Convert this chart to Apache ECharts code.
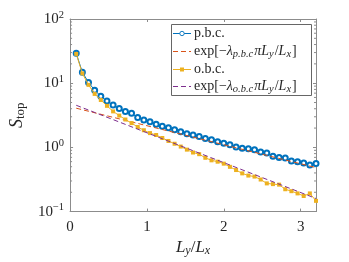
<!DOCTYPE html>
<html><head><meta charset="utf-8">
<script src="https://cdn.jsdelivr.net/npm/echarts@6/dist/echarts.min.js"></script>
<style>html,body{margin:0;padding:0;background:#fff}#c{width:349px;height:262px}</style>
</head><body><div id="c"></div>
<script>
const xVals = [0.08,0.16,0.24,0.32,0.40,0.48,0.56,0.64,0.72,0.80,0.88,0.96,1.04,1.12,1.20,1.28,1.36,1.44,1.52,1.60,1.68,1.76,1.84,1.92,2.00,2.08,2.16,2.24,2.32,2.40,2.48,2.56,2.64,2.72,2.80,2.88,2.96,3.04,3.12,3.20];
const pbc = [29.2,14.8,10.3,7.75,6.28,5.28,4.59,4.04,3.64,3.39,2.92,2.66,2.50,2.29,2.13,2.03,1.89,1.75,1.63,1.56,1.48,1.38,1.32,1.23,1.16,1.10,1.01,0.966,0.955,0.922,0.849,0.82,0.731,0.698,0.681,0.614,0.599,0.572,0.534,0.559];
const obc = [28.6,14.2,9.42,6.81,5.47,4.44,3.64,3.13,2.72,2.39,2.08,1.85,1.67,1.56,1.40,1.26,1.14,1.03,0.923,0.832,0.784,0.689,0.629,0.599,0.558,0.498,0.444,0.394,0.364,0.351,0.316,0.275,0.268,0.263,0.223,0.208,0.192,0.175,0.192,0.147];
const fitX = [0.08, 3.20];
const fitP = [4.08, 0.485];
const fitO = [4.53, 0.16];
const xTicks = [0, 1, 2, 3];
const yTickLabels = {0.1: '\u22121', 1: '0', 10: '1', 100: '2'};
const yMinorTicks = [0.2,0.3,0.4,0.5,0.6,0.7,0.8,0.9,2,3,4,5,6,7,8,9,20,30,40,50,60,70,80,90];
const legendLabels = [
  'p.b.c.',
  'exp[\u2212{i|\u03bb}{sub|p.b.c}{i|\u03c0L}{sub|y}/{i|L}{sub|x}]',
  'o.b.c.',
  'exp[\u2212{i|\u03bb}{sub|o.b.c}{i|\u03c0L}{sub|y}/{i|L}{sub|x}]'
];

const F = '"Liberation Serif","DejaVu Serif",serif';
const AX = '#8c8c8c';
const TXT = '#262626';
const BLUE = '#0072BD', RED = '#D95319', YEL = '#EDB120', PUR = '#7E2F8E';
const pair = a => a.map((v,i)=>[xVals[i], v]);
const fitPair = a => a.map((v,i)=>[fitX[i], v]);

// legend built with graphic elements
const LG = {x:171, y:24, w:140, h:71, row0:33.3, rowGap:17.6};
const legendColors = [BLUE, RED, YEL, PUR];
const legendEls = [{type:'rect', shape:{x:LG.x+0.5, y:LG.y+0.5, width:LG.w, height:LG.h},
  style:{fill:'#fff', stroke:'#666', lineWidth:1}}];
legendLabels.forEach((t,i) => {
  const y = Math.round(LG.row0 + i*LG.rowGap) + 0.5;
  const dashed = (i % 2 === 1);
  legendEls.push({type:'line', shape:{x1:LG.x+2, y1:y, x2:LG.x+20, y2:y},
    style:{stroke:legendColors[i], lineWidth:1, lineDash: dashed ? [5,3] : null}});
  if (i === 0) legendEls.push({type:'circle', shape:{cx:LG.x+11, cy:y, r:2.2}, style:{fill:'#fff', stroke:BLUE, lineWidth:0.9}});
  if (i === 2) legendEls.push({type:'rect', shape:{x:LG.x+9, y:y-2, width:4, height:4}, style:{fill:YEL}});
  legendEls.push({type:'text', x:LG.x+23, y:y, style:{text:t, fontFamily:F, fontSize:14, fill:TXT, verticalAlign:'middle',
    rich:{
      i:{fontFamily:F, fontSize:14, fontStyle:'italic', fill:TXT},
      sub:{fontFamily:F, fontSize:10.5, fontStyle:'italic', fill:TXT, verticalAlign:'bottom', padding:[5,1,0,0]}
    }}});
});

const chart = echarts.init(document.getElementById('c'), null, {renderer:'canvas'});
const axisCommon = {
  axisLine:{show:true, onZero:false, lineStyle:{color:AX, width:1}},
  splitLine:{show:false}
};
chart.setOption({
  animation:false,
  backgroundColor:'#fff',
  grid:{left:59, right:33, top:19, bottom:45, containLabel:false},
  graphic:[{type:'group', z:100, children:legendEls}],
  xAxis:[
    Object.assign({type:'value', min:0, max:3.2, interval:1, position:'bottom',
      axisTick:{inside:true, length:3, lineStyle:{color:AX}},
      axisLabel:{fontFamily:F, fontSize:15, color:TXT, margin:8,
        formatter: v => xTicks.includes(v) ? String(v) : ''},
      name:'{i|L}{s|y}/{i|L}{s|x}', nameLocation:'middle', nameGap:23,
      nameTextStyle:{fontFamily:F, fontSize:17, color:TXT,
        rich:{i:{fontFamily:F, fontSize:17, fontStyle:'italic', color:TXT},
              s:{fontFamily:F, fontSize:12, fontStyle:'italic', color:TXT, verticalAlign:'bottom', padding:[6,0,0,0]}}}
    }, axisCommon),
    Object.assign({type:'value', min:0, max:3.2, interval:1, position:'top',
      axisTick:{inside:true, length:3, lineStyle:{color:AX}},
      axisLabel:{show:false}}, axisCommon)
  ],
  yAxis:[
    Object.assign({type:'log', logBase:10, min:0.1, max:100, position:'left',
      axisTick:{inside:true, length:3, lineStyle:{color:AX}},
      axisLabel:{fontFamily:F, fontSize:15, color:TXT, margin:6,
        formatter: v => { const k = Object.keys(yTickLabels).find(t => Math.abs(+t - v) < 1e-9*Math.max(1,v)); return k ? '10{s|' + yTickLabels[k] + '}' : ''; },
        rich:{s:{fontFamily:F, fontSize:10.5, color:TXT, verticalAlign:'top', padding:[0,0,8,0]}}},
      name:'{i|S}{s|top}', nameLocation:'middle', nameGap:32,
      nameTextStyle:{fontFamily:F, fontSize:18, color:TXT,
        rich:{i:{fontFamily:F, fontSize:18, fontStyle:'italic', color:TXT},
              s:{fontFamily:F, fontSize:13, color:TXT, verticalAlign:'bottom', padding:[7,0,0,0]}}}
    }, axisCommon),
    Object.assign({type:'log', logBase:10, min:0.1, max:100, position:'right',
      axisTick:{inside:true, length:3, lineStyle:{color:AX}},
      axisLabel:{show:false}}, axisCommon)
  ],
  series:[
    {name:'pbc', type:'line', data:pair(pbc), symbol:'emptyCircle', symbolSize:5,
      color:BLUE, lineStyle:{width:1, color:BLUE}, itemStyle:{color:BLUE, borderWidth:0.8}, z:3},
    {name:'fitp', type:'line', data:fitPair(fitP), symbol:'none', color:RED,
      lineStyle:{width:1, type:[5,3], color:RED}, z:4},
    {name:'obc', type:'line', data:pair(obc), symbol:'rect', symbolSize:4,
      color:YEL, lineStyle:{width:1, color:YEL}, itemStyle:{color:YEL}, z:5},
    {name:'fito', type:'line', data:fitPair(fitO), symbol:'none', color:PUR,
      lineStyle:{width:1, type:[5,3], color:PUR}, z:6},
    {name:'minor', type:'custom', data:yMinorTicks.map(v=>[0,v]), silent:true, z:2,
      renderItem:(params, api) => {
        const v = api.value(1);
        const l = api.coord([0, v]);
        const r = api.coord([3.2, v]);
        return {type:'group', children:[
          {type:'line', shape:{x1:l[0], y1:l[1], x2:l[0]+2, y2:l[1]}, style:{stroke:AX, lineWidth:1}},
          {type:'line', shape:{x1:r[0], y1:r[1], x2:r[0]-2, y2:r[1]}, style:{stroke:AX, lineWidth:1}}
        ]};
      }}
  ]
});
</script></body></html>
